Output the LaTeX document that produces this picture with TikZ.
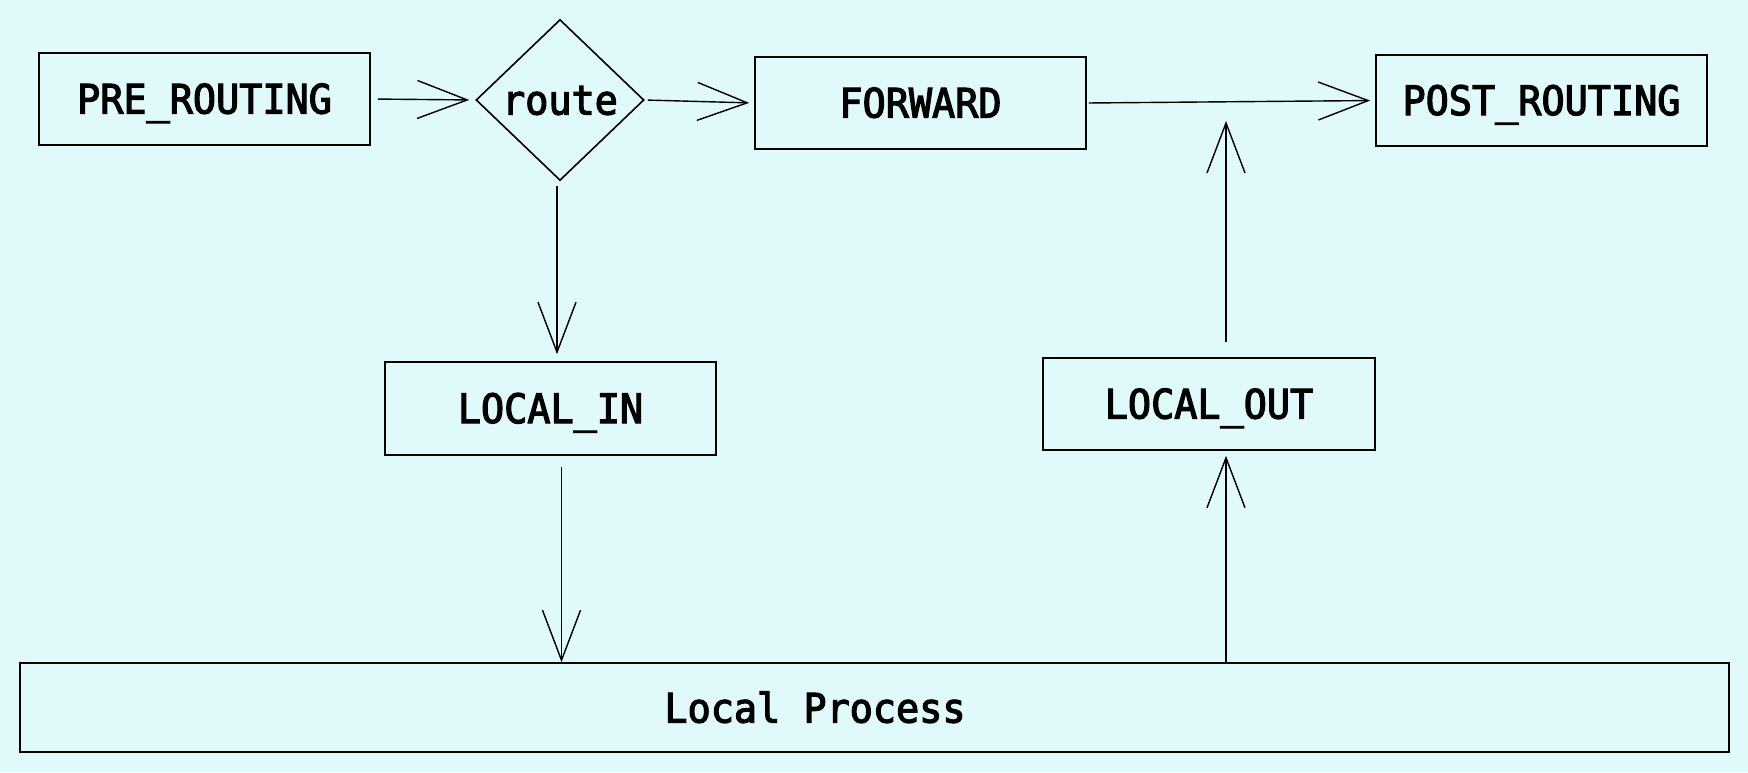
\documentclass[tikz,border=0pt]{standalone}
\usepackage{fontspec}
\newfontfamily\lblfont[FakeBold=3,FakeStretch=0.95]{DejaVu Sans Mono}
\usetikzlibrary{shapes.geometric,arrows.meta,calc}
\definecolor{bg}{RGB}{224,249,250}
\begin{document}
\begin{tikzpicture}[x=1pt,y=-1pt,
  lbl/.style={font=\lblfont\fontsize{40.5}{42}\selectfont, text height=29pt, text depth=0pt, inner sep=0pt},
  box/.style={lbl, draw, line width=1.6pt, minimum width=331pt, minimum height=92pt},
  dia/.style={lbl, draw, line width=1.6pt, shape=diamond, aspect=1, minimum width=168pt, minimum height=161pt},
  ar/.style={line width=1.4pt, -{Straight Barb[length=50pt,width=38pt]}}]
\fill[bg] (0,0) rectangle (1748,772);
\useasboundingbox (0,0) rectangle (1748,772);
\node[box] (pre) at (204.5,99) {PRE\_ROUTING};
\node[dia] (route) at (560,100) {route};
\node[box] (fwd) at (920.5,103) {FORWARD};
\node[box, minimum height=91pt] (post) at (1541.5,100.5) {POST\_ROUTING};
\node[box, minimum height=93pt] (lin) at (550.5,408.5) {LOCAL\_IN};
\node[box, minimum width=332pt] (lout) at (1209,404) {LOCAL\_OUT};
\node[draw, line width=1.6pt, minimum width=1709pt, minimum height=89pt] (lp) at (874.5,707.5) {};
\node[lbl] (lptext) at (815,708) {Local Process};
\draw[ar, shorten <=7pt, shorten >=6pt] (pre.east) -- (route.west);
\draw[ar, shorten <=3pt, shorten >=5pt] (route.east) -- (fwd.west);
\draw[ar, shorten <=2pt, shorten >=5pt] (fwd.east) -- (post.west);
\draw[ar, shorten <=5pt, shorten >=7pt] ([xshift=-3pt]route.south) -- ([xshift=-3pt]route.south |- lin.north);
\draw[ar, shorten <=11pt] ([xshift=11pt]lin.south) -- ([xshift=11pt]lin.south |- lp.north);
\draw[ar, shorten >=5pt] ([xshift=17pt]lout.south |- lp.north) -- ([xshift=17pt]lout.south);
\draw[ar, shorten <=15pt, shorten >=18pt] ([xshift=17pt]lout.north) -- ([xshift=17pt]lout.north |- fwd.east);
\end{tikzpicture}
\end{document}
